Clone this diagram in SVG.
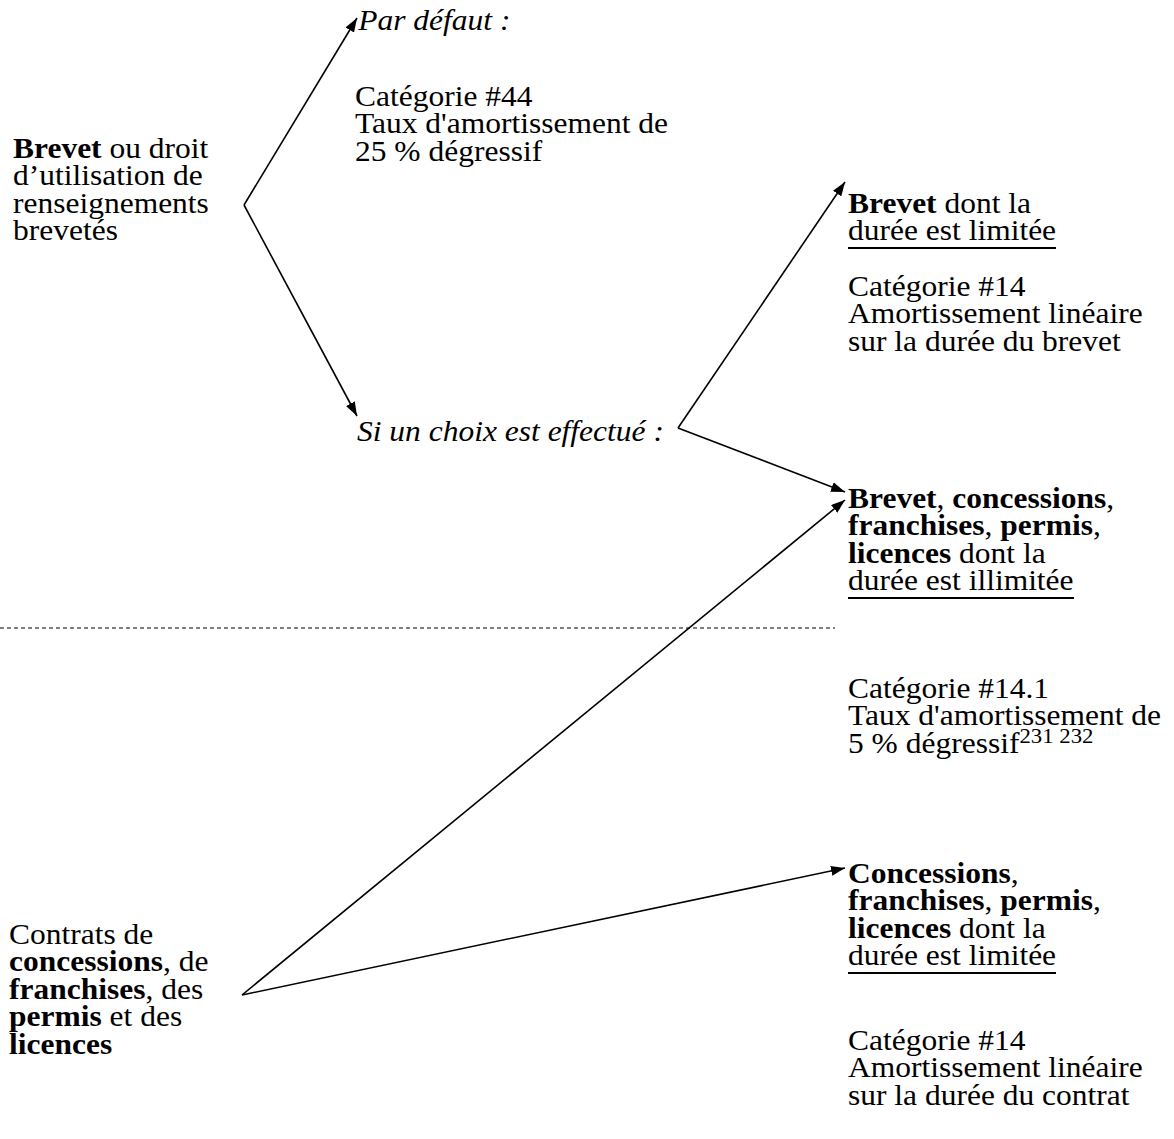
<svg xmlns="http://www.w3.org/2000/svg" width="1174" height="1139" viewBox="0 0 1174 1139">
<style>
text{font-family:"Liberation Serif","Times New Roman",serif;font-size:29px;fill:#000}
.b{font-weight:bold}
.i{font-style:italic}
.sup{font-size:21px}
.c{fill:none;stroke:#000;stroke-width:1.6}
.d{fill:none;stroke:#000;stroke-width:1;stroke-dasharray:4 3}
.ul{stroke:#000;stroke-width:1.8}
</style>
<defs>
<marker id="ah" viewBox="0 0 14 10" refX="14" refY="5" markerWidth="14" markerHeight="10" markerUnits="userSpaceOnUse" orient="auto">
<path d="M0,0 L14,5 L0,10 Z" fill="#000"/>
</marker>
</defs>
<g id="connectors">
<path class="c" d="M244,205 L357,18" marker-end="url(#ah)"/>
<path class="c" d="M244,205 L357,416" marker-end="url(#ah)"/>
<path class="c" d="M678,428 L845,182" marker-end="url(#ah)"/>
<path class="c" d="M678,428 L845,492" marker-end="url(#ah)"/>
<path class="c" d="M242,995 L845,500" marker-end="url(#ah)"/>
<path class="c" d="M242,995 L845,868" marker-end="url(#ah)"/>
<line class="d" x1="0" y1="628" x2="835" y2="628"/>
</g>
<g id="brevet-source">
<g transform="translate(13,0) scale(1.086,1)">
<text x="0" y="158"><tspan class="b">Brevet</tspan> ou droit</text>
<text x="0" y="185.5">d’utilisation de</text>
<text x="0" y="213">renseignements</text>
<text x="0" y="240.5">brevetés</text>
</g>
</g>
<g id="par-defaut">
<g transform="translate(355,0) scale(1.086,1)">
<text x="3" y="30" class="i">Par défaut :</text>
<text x="0" y="106">Catégorie #44</text>
<text x="0" y="133.5">Taux d'amortissement de</text>
<text x="0" y="161">25 % dégressif</text>
</g>
</g>
<g id="si-choix">
<g transform="translate(357,0) scale(1.086,1)">
<text x="0" y="441" class="i">Si un choix est effectué :</text>
</g>
</g>
<g id="brevet-limitee">
<g transform="translate(848,0) scale(1.086,1)">
<text x="0" y="213"><tspan class="b">Brevet</tspan> dont la</text>
<text x="0" y="240.5">durée est limitée</text>
<text x="0" y="296">Catégorie #14</text>
<text x="0" y="323.5">Amortissement linéaire</text>
<text x="0" y="351">sur la durée du brevet</text>
</g>
<line class="ul" x1="848" y1="248" x2="1056" y2="248"/>
</g>
<g id="illimitee">
<g transform="translate(848,0) scale(1.086,1)">
<text x="0" y="508"><tspan class="b">Brevet</tspan>, <tspan class="b">concessions</tspan>,</text>
<text x="0" y="535.5"><tspan class="b">franchises</tspan>, <tspan class="b">permis</tspan>,</text>
<text x="0" y="563"><tspan class="b">licences</tspan> dont la</text>
<text x="0" y="590.5">durée est illimitée</text>
<text x="0" y="698">Catégorie #14.1</text>
<text x="0" y="725.5">Taux d'amortissement de</text>
<text x="0" y="753">5 % dégressif<tspan class="sup" dy="-10">231 232</tspan></text>
</g>
<line class="ul" x1="848" y1="598" x2="1074" y2="598"/>
</g>
<g id="contrats-limitee">
<g transform="translate(848,0) scale(1.086,1)">
<text x="0" y="883"><tspan class="b">Concessions</tspan>,</text>
<text x="0" y="910.5"><tspan class="b">franchises</tspan>, <tspan class="b">permis</tspan>,</text>
<text x="0" y="938"><tspan class="b">licences</tspan> dont la</text>
<text x="0" y="965.5">durée est limitée</text>
<text x="0" y="1050">Catégorie #14</text>
<text x="0" y="1077.5">Amortissement linéaire</text>
<text x="0" y="1105">sur la durée du contrat</text>
</g>
<line class="ul" x1="848" y1="973" x2="1056" y2="973"/>
</g>
<g id="contrats-source">
<g transform="translate(9,0) scale(1.086,1)">
<text x="0" y="944">Contrats de</text>
<text x="0" y="971.5"><tspan class="b">concessions</tspan>, de</text>
<text x="0" y="999"><tspan class="b">franchises</tspan>, des</text>
<text x="0" y="1026.5"><tspan class="b">permis</tspan> et des</text>
<text x="0" y="1054" class="b">licences</text>
</g>
</g>
</svg>
